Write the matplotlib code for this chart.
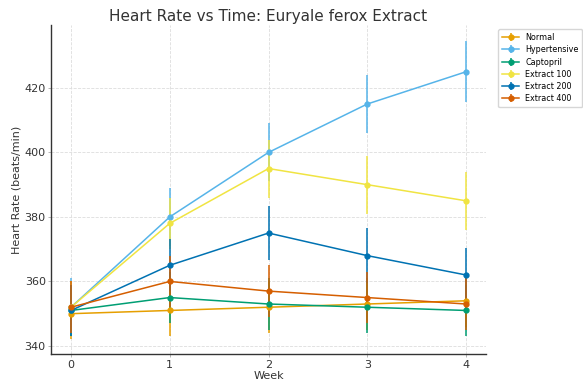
import matplotlib
matplotlib.use("Agg")
import matplotlib.pyplot as plt

weeks = [0, 1, 2, 3, 4]
groups = ["Normal", "Hypertensive", "Captopril", "Extract 100", "Extract 200", "Extract 400"]
means = {
    "Normal":       [350, 351, 352, 353, 354],
    "Hypertensive": [352, 380, 400, 415, 425],
    "Captopril":    [351, 355, 353, 352, 351],
    "Extract 100":  [352, 378, 395, 390, 385],
    "Extract 200":  [351, 365, 375, 368, 362],
    "Extract 400":  [352, 360, 357, 355, 353],
}
errors = {
    "Normal":       [8, 8, 8, 8, 8],
    "Hypertensive": [9, 9, 9, 9, 9.5],
    "Captopril":    [8, 8, 8, 8, 8],
    "Extract 100":  [8, 8, 9, 9, 9],
    "Extract 200":  [8, 8, 8.5, 8.5, 8.5],
    "Extract 400":  [8, 8, 8, 8, 8],
}
colors = ["#E69F00", "#56B4E9", "#009E73", "#F0E442", "#0072B2", "#D55E00"]

fig = plt.figure(figsize=(5.83, 3.83), dpi=100)
ax = fig.add_axes([51.25/583, 1-354/383, (485.75-51.25)/583, (354-25)/383])
for g, c in zip(groups, colors):
    ax.errorbar(weeks, means[g], yerr=errors[g], color=c, marker="o", markersize=3.5,
                linewidth=1.1, elinewidth=1.1, capsize=0, label=g)

ax.set_xlim(-0.2, 4.2)
ax.set_ylim(337.5, 439.5)
ax.set_xticks(weeks)
ax.set_yticks([340, 360, 380, 400, 420])
ax.grid(True, linestyle="--", color="#dddddd", linewidth=0.6)
ax.set_axisbelow(True)
for s in ["top", "right"]:
    ax.spines[s].set_visible(False)
for s in ["left", "bottom"]:
    ax.spines[s].set_color("#333333")
    ax.spines[s].set_linewidth(1.0)
ax.tick_params(length=2, width=0.6, color="#aaaaaa", labelsize=8, labelcolor="#333333", pad=2)
ax.set_title("Heart Rate vs Time: Euryale ferox Extract", fontsize=11, color="#333333", pad=3)
ax.set_xlabel("Week", fontsize=8, color="#333333", labelpad=1)
ax.set_ylabel("Heart Rate (beats/min)", fontsize=8, color="#333333", labelpad=2)
ax.legend(loc="upper left", bbox_to_anchor=(1.02, 1.0), fontsize=5.8, frameon=True,
          edgecolor="#cccccc", fancybox=True, handlelength=2.0, borderpad=0.5,
          labelspacing=0.4, handletextpad=0.8)
fig.savefig("out.png", dpi=100)
